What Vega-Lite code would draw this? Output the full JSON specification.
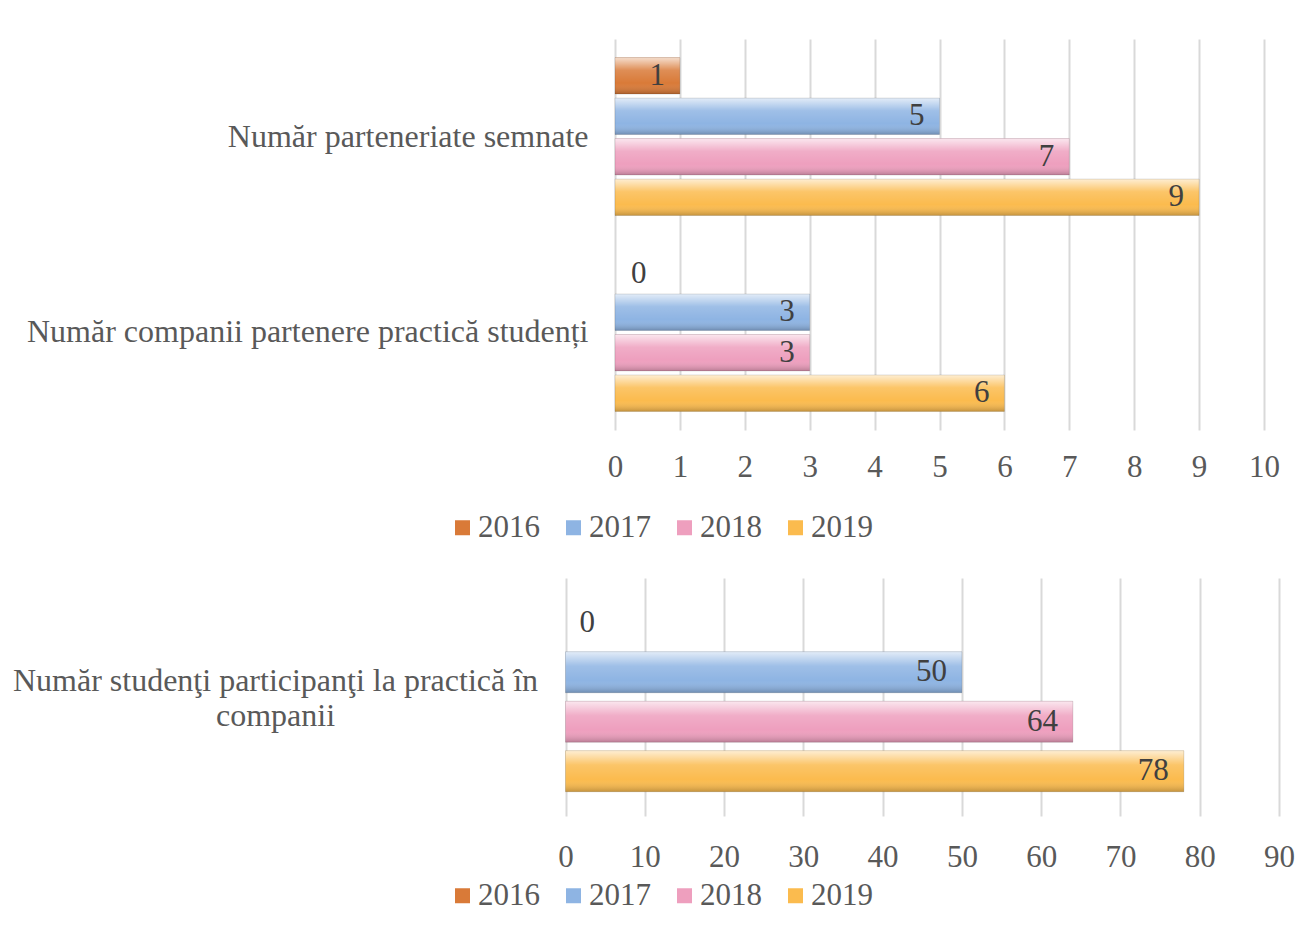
{
  "$schema": "https://vega.github.io/schema/vega-lite/v6.json",
  "padding": {"left": 12, "top": 39, "right": 0, "bottom": 0},
  "background": "white",
  "config": {
    "view": {"stroke": null},
    "font": "Liberation Serif",
    "axis": {"labelFont": "Liberation Serif", "labelColor": "#595959", "title": null},
    "legend": {"labelFont": "Liberation Serif"}
  },
  "datasets": {
    "top": [
      {"cat": "Număr parteneriate semnate", "year": "2016", "value": 1},
      {"cat": "Număr parteneriate semnate", "year": "2017", "value": 5},
      {"cat": "Număr parteneriate semnate", "year": "2018", "value": 7},
      {"cat": "Număr parteneriate semnate", "year": "2019", "value": 9},
      {"cat": "Număr companii partenere practică studenți", "year": "2016", "value": 0},
      {"cat": "Număr companii partenere practică studenți", "year": "2017", "value": 3},
      {"cat": "Număr companii partenere practică studenți", "year": "2018", "value": 3},
      {"cat": "Număr companii partenere practică studenți", "year": "2019", "value": 6}
    ],
    "bottom": [
      {"cat": "Număr studenţi participanţi la practică în companii", "year": "2016", "value": 0},
      {"cat": "Număr studenţi participanţi la practică în companii", "year": "2017", "value": 50},
      {"cat": "Număr studenţi participanţi la practică în companii", "year": "2018", "value": 64},
      {"cat": "Număr studenţi participanţi la practică în companii", "year": "2019", "value": 78}
    ]
  },
  "spacing": 35,
  "resolve": {
    "scale": {"x": "independent", "y": "independent", "yOffset": "independent", "color": "independent"},
    "legend": {"color": "independent"}
  },
  "vconcat": [
    {
      "width": 649,
      "height": 391,
      "data": {"name": "top"},
      "encoding": {
        "y": {
          "field": "cat", "type": "nominal", "sort": null,
          "scale": {"paddingInner": 0.194, "paddingOuter": 0.095},
          "axis": {"domain": false, "ticks": false, "labelFontSize": 32, "labelPadding": 27, "labelLimit": 1000, "minExtent": 603, "labelColor": "#595959"}
        },
        "yOffset": {
          "field": "year", "type": "nominal",
          "scale": {"paddingInner": 0.1, "paddingOuter": 0}
        },
        "x": {
          "field": "value", "type": "quantitative",
          "scale": {"domain": [0, 10], "nice": false},
          "axis": {"values": [0,1,2,3,4,5,6,7,8,9,10], "domain": false, "ticks": false, "grid": true, "gridColor": "#D9D9D9", "gridWidth": 2, "labelFontSize": 31, "labelPadding": 22, "labelColor": "#595959", "labelFlush": false, "labelOverlap": false}
        }
      },
      "layer": [
        {
          "mark": {"type": "bar", "strokeWidth": 0},
          "encoding": {
            "color": {
              "field": "year", "type": "nominal",
              "scale": {"domain": ["2016", "2017", "2018", "2019"], "range": ["#D97A38", "#8EB4E3", "#EE9FBE", "#FBBB4E"]},
              "legend": {"orient": "none", "legendX": -168, "legendY": 473, "direction": "horizontal", "title": null, "symbolType": "square", "symbolSize": 225, "symbolStrokeWidth": 0, "labelFontSize": 31, "labelColor": "#595959", "labelOffset": 0, "columnPadding": 18, "padding": 0}
            }
          }
        },
        {
          "transform": [{"filter": "datum.value > 0"}],
          "mark": {
            "type": "bar",
            "fill": {"gradient": "linear", "x1": 0, "y1": 0, "x2": 0, "y2": 1, "stops": [
              {"offset": 0, "color": "rgba(255,255,255,0.75)"},
              {"offset": 0.35, "color": "rgba(255,255,255,0.15)"},
              {"offset": 0.7, "color": "rgba(255,255,255,0)"},
              {"offset": 1, "color": "rgba(0,0,0,0.22)"}
            ]},
            "stroke": "rgba(0,0,0,0.12)", "strokeWidth": 1
          },
          "encoding": {}
        },
        {
          "transform": [{"filter": "datum.value > 0"}],
          "mark": {"type": "text", "align": "right", "baseline": "middle", "dx": -15, "fontSize": 31, "color": "#404040", "font": "Liberation Serif"},
          "encoding": {"text": {"field": "value", "type": "quantitative"}}
        },
        {
          "transform": [{"filter": "datum.value == 0"}],
          "mark": {"type": "text", "align": "left", "baseline": "middle", "dy": 2, "dx": 16, "fontSize": 31, "color": "#404040", "font": "Liberation Serif"},
          "encoding": {"text": {"field": "value", "type": "quantitative"}}
        }
      ]
    },
    {
      "width": 664,
      "height": 238,
      "data": {"name": "bottom"},
      "encoding": {
        "y": {
          "field": "cat", "type": "nominal", "sort": null,
          "scale": {"paddingInner": 0, "paddingOuter": 0.128},
          "axis": {"domain": false, "ticks": false, "labelFontSize": 32, "labelPadding": 340, "labelLimit": 1000, "labelAlign": "center", "labelLineHeight": 35, "labelOffset": -16, "labelColor": "#595959",
                   "labelExpr": "['Număr studenţi participanţi la practică în', 'companii']"}
        },
        "yOffset": {
          "field": "year", "type": "nominal",
          "scale": {"paddingInner": 0.17, "paddingOuter": 0}
        },
        "x": {
          "field": "value", "type": "quantitative",
          "scale": {"domain": [0, 90], "nice": false, "range": [-49.5, 664]},
          "axis": {"values": [0,10,20,30,40,50,60,70,80,90], "domain": false, "ticks": false, "grid": true, "gridColor": "#D9D9D9", "gridWidth": 2, "labelFontSize": 31, "labelPadding": 26, "labelColor": "#595959", "labelFlush": false, "labelOverlap": false}
        }
      },
      "layer": [
        {
          "mark": {"type": "bar", "strokeWidth": 0},
          "encoding": {
            "color": {
              "field": "year", "type": "nominal",
              "scale": {"domain": ["2016", "2017", "2018", "2019"], "range": ["#D97A38", "#8EB4E3", "#EE9FBE", "#FBBB4E"]},
              "legend": {"orient": "none", "legendX": -168, "legendY": 302, "direction": "horizontal", "title": null, "symbolType": "square", "symbolSize": 225, "symbolStrokeWidth": 0, "labelFontSize": 31, "labelColor": "#595959", "labelOffset": 0, "columnPadding": 18, "padding": 0}
            }
          }
        },
        {
          "transform": [{"filter": "datum.value > 0"}],
          "mark": {
            "type": "bar",
            "fill": {"gradient": "linear", "x1": 0, "y1": 0, "x2": 0, "y2": 1, "stops": [
              {"offset": 0, "color": "rgba(255,255,255,0.75)"},
              {"offset": 0.35, "color": "rgba(255,255,255,0.15)"},
              {"offset": 0.7, "color": "rgba(255,255,255,0)"},
              {"offset": 1, "color": "rgba(0,0,0,0.22)"}
            ]},
            "stroke": "rgba(0,0,0,0.12)", "strokeWidth": 1
          },
          "encoding": {}
        },
        {
          "transform": [{"filter": "datum.value > 0"}],
          "mark": {"type": "text", "align": "right", "baseline": "middle", "dx": -15, "fontSize": 31, "color": "#404040", "font": "Liberation Serif"},
          "encoding": {"text": {"field": "value", "type": "quantitative"}}
        },
        {
          "transform": [{"filter": "datum.value == 0"}],
          "mark": {"type": "text", "align": "left", "baseline": "middle", "dx": 14, "fontSize": 31, "color": "#404040", "font": "Liberation Serif"},
          "encoding": {"text": {"field": "value", "type": "quantitative"}}
        }
      ]
    }
  ]
}
